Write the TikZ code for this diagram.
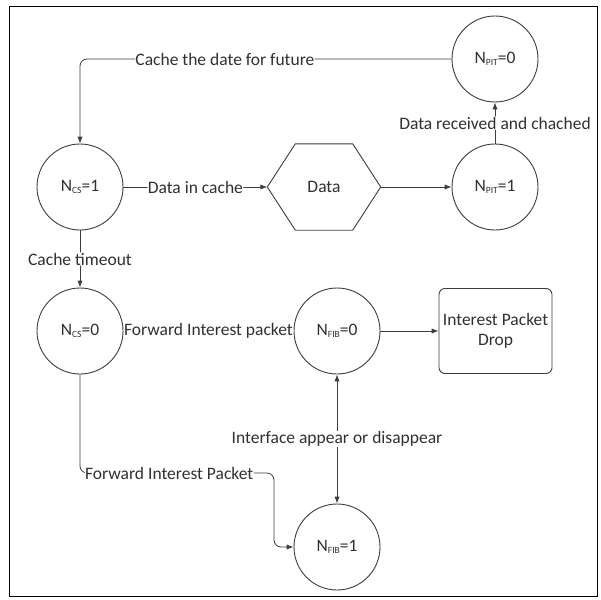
\documentclass[tikz,border=0pt]{standalone}
\usepackage{fontspec}
\setmainfont{Carlito}
\usepackage{tikz}
\usetikzlibrary{positioning,arrows.meta}
\definecolor{linegray}{HTML}{3C3C3C}
\definecolor{textgray}{HTML}{303030}
\newcommand{\subtag}[1]{\raisebox{-0.1em}{\fontsize{9.5}{10}\selectfont #1}}
\tikzset{
  flowarrow/.style={-{Latex[length=2.4mm,width=1.8mm]}, line width=0.8pt, draw=linegray, rounded corners=7pt},
  bothflow/.style={{Latex[length=2.4mm,width=1.8mm]}-{Latex[length=2.4mm,width=1.8mm]}, line width=0.8pt, draw=linegray},
  statenode/.style={draw=linegray, line width=0.9pt, circle, minimum size=86pt, inner sep=0pt, text=textgray},
  dropbox/.style={draw=linegray, line width=0.9pt, rounded corners=6pt, minimum width=113pt, minimum height=85pt, align=center, text=textgray},
  datanode/.style={minimum width=113pt, minimum height=86pt, inner sep=0pt, text=textgray},
  relabel/.style={fill=white, inner sep=0.5pt, text=textgray}
}
\begin{document}
\begin{tikzpicture}[x=1pt, y=-1pt, every node/.style={font=\fontsize{17.5}{20.5}\selectfont}]
  \useasboundingbox (0,0) rectangle (601,599);
  \draw[line width=0.8pt] (9,6) rectangle (597,596);
  % states
  \node[statenode] (ncsone) at (80,187) {N\subtag{CS}=1};
  \node[statenode] (pitzero) at (495,59) {N\subtag{PIT}=0};
  \node[statenode] (pitone) at (495,187) {N\subtag{PIT}=1};
  \node[datanode] (data) at (324,187) {Data};
  \draw[draw=linegray, line width=0.9pt] (data.west) -- ([xshift=28pt]data.north west) -- ([xshift=-28pt]data.north east)
    -- (data.east) -- ([xshift=-28pt]data.south east) -- ([xshift=28pt]data.south west) -- cycle;
  \node[statenode] (ncszero) at (80,331) {N\subtag{CS}=0};
  \node[statenode] (fibzero) at (337,331) {N\subtag{FIB}=0};
  \node[dropbox] (drop) at (495.5,331) {Interest Packet\\Drop};
  \node[statenode] (fibone) at (337,547) {N\subtag{FIB}=1};
  \coordinate (fwdbend) at (274,473);
  % connectors
  \draw[flowarrow] (pitzero.west) -| node[pos=0.305, relabel] {Cache the date for future} (ncsone.north);
  \draw[flowarrow] (ncsone.east) -- node[relabel] {Data in cache} (data.west);
  \draw[flowarrow] (data.east) -- (pitone.west);
  \draw[flowarrow] (pitone.north) -- node[relabel] {Data received and chached} (pitzero.south);
  \draw[flowarrow] (ncsone.south) -- node[relabel] {Cache timeout} (ncszero.north);
  \draw[flowarrow] (ncszero.east) -- node[relabel] {Forward Interest packet} (fibzero.west);
  \draw[flowarrow] (fibzero.east) -- (drop.west);
  \draw[bothflow] (fibzero.south) -- node[relabel] {Interface appear or disappear} (fibone.north);
  \draw[flowarrow] (ncszero.south) |- node[pos=0.73, relabel] {Forward Interest Packet} (fwdbend) |- (fibone.west);
\end{tikzpicture}
\end{document}
